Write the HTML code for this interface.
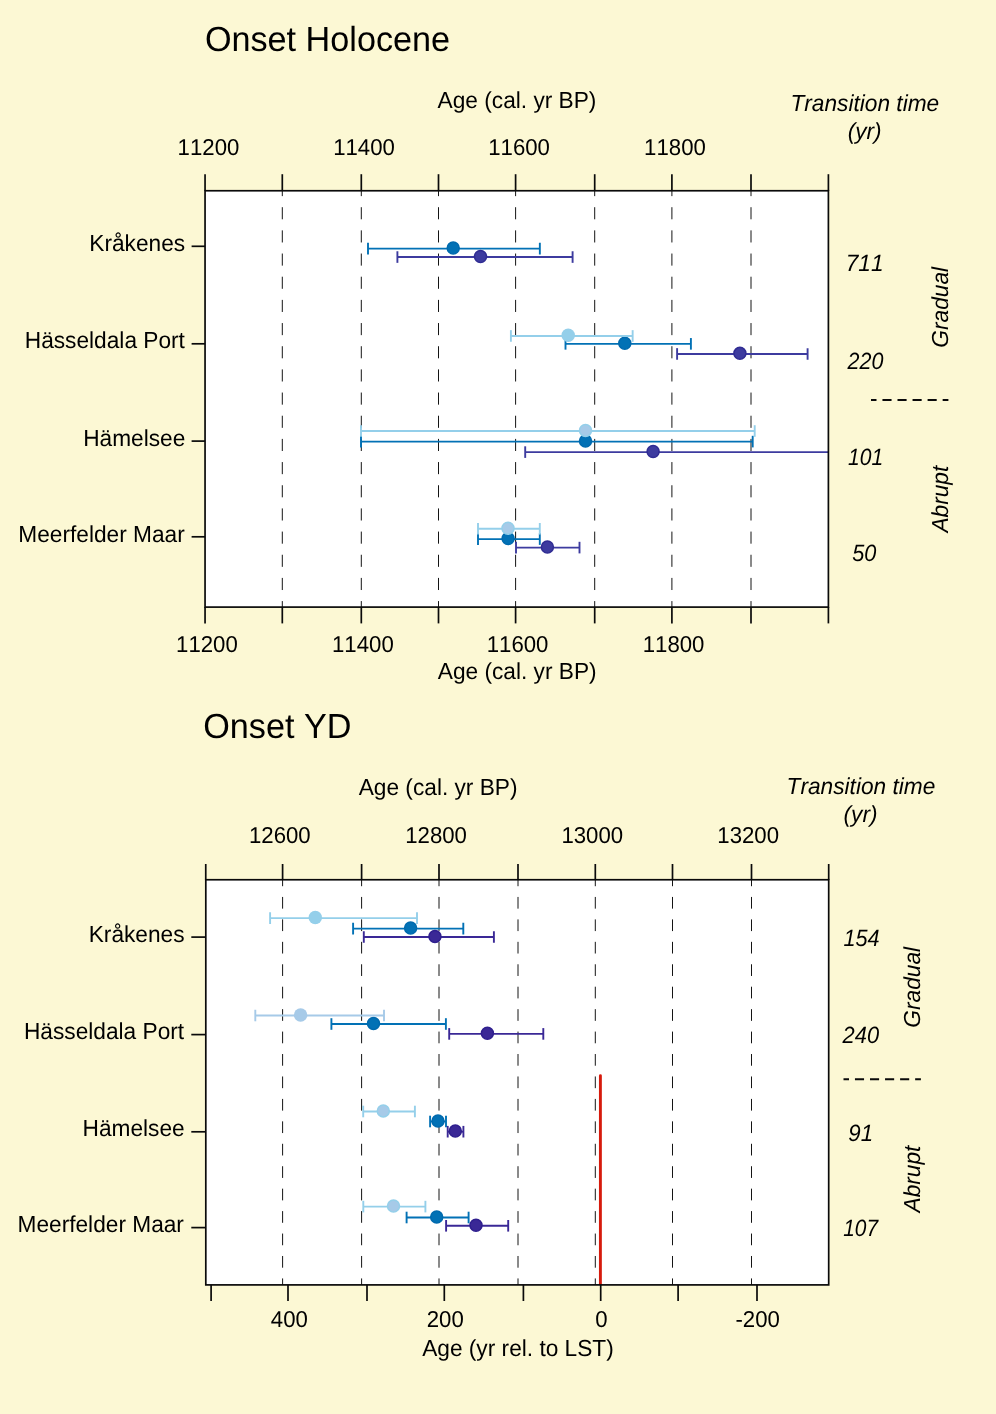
<!DOCTYPE html>
<html><head><meta charset="utf-8"><style>
html,body{margin:0;padding:0;background:#fcf8d4;overflow:hidden;}
svg{will-change:transform;display:block;font-family:"Liberation Sans", sans-serif;}
text{fill:#000;font-kerning:none;text-rendering:geometricPrecision;}
</style></head><body>
<svg width="996" height="1414" viewBox="0 0 996 1414">
<rect width="996" height="1414" fill="#fcf8d4"/>
<rect x="205.05" y="190.75" width="623.3499999999999" height="416.35" fill="#ffffff"/>
<line x1="282.30" y1="190.75" x2="282.30" y2="607.10" stroke="#141414" stroke-width="1.0" stroke-dasharray="12.1 11.07" stroke-dashoffset="6.720000000000027"/>
<line x1="361.30" y1="190.75" x2="361.30" y2="607.10" stroke="#141414" stroke-width="1.0" stroke-dasharray="12.1 11.07" stroke-dashoffset="6.720000000000027"/>
<line x1="438.50" y1="190.75" x2="438.50" y2="607.10" stroke="#141414" stroke-width="1.0" stroke-dasharray="12.1 11.07" stroke-dashoffset="6.720000000000027"/>
<line x1="515.60" y1="190.75" x2="515.60" y2="607.10" stroke="#141414" stroke-width="1.0" stroke-dasharray="12.1 11.07" stroke-dashoffset="6.720000000000027"/>
<line x1="594.70" y1="190.75" x2="594.70" y2="607.10" stroke="#141414" stroke-width="1.0" stroke-dasharray="12.1 11.07" stroke-dashoffset="6.720000000000027"/>
<line x1="671.90" y1="190.75" x2="671.90" y2="607.10" stroke="#141414" stroke-width="1.0" stroke-dasharray="12.1 11.07" stroke-dashoffset="6.720000000000027"/>
<line x1="751.00" y1="190.75" x2="751.00" y2="607.10" stroke="#141414" stroke-width="1.0" stroke-dasharray="12.1 11.07" stroke-dashoffset="6.720000000000027"/>
<clipPath id="c1"><rect x="205.05" y="190.75" width="623.3499999999999" height="416.35"/></clipPath>
<g clip-path="url(#c1)">
<line x1="368.00" y1="248.60" x2="539.85" y2="248.60" stroke="#0271b5" stroke-width="1.9" />
<line x1="368.00" y1="242.80" x2="368.00" y2="254.40" stroke="#0271b5" stroke-width="1.9" />
<line x1="539.85" y1="242.80" x2="539.85" y2="254.40" stroke="#0271b5" stroke-width="1.9" />
<circle cx="453.20" cy="248.00" r="6.00" fill="#0271b5" stroke="#006aae" stroke-width="1.5"/>
<line x1="565.50" y1="343.85" x2="690.90" y2="343.85" stroke="#0271b5" stroke-width="1.9" />
<line x1="565.50" y1="338.05" x2="565.50" y2="349.65" stroke="#0271b5" stroke-width="1.9" />
<line x1="690.90" y1="338.05" x2="690.90" y2="349.65" stroke="#0271b5" stroke-width="1.9" />
<circle cx="624.80" cy="343.25" r="6.00" fill="#0271b5" stroke="#006aae" stroke-width="1.5"/>
<line x1="361.00" y1="441.60" x2="752.70" y2="441.60" stroke="#0271b5" stroke-width="1.9" />
<line x1="361.00" y1="435.80" x2="361.00" y2="447.40" stroke="#0271b5" stroke-width="1.9" />
<line x1="752.70" y1="435.80" x2="752.70" y2="447.40" stroke="#0271b5" stroke-width="1.9" />
<circle cx="585.50" cy="441.00" r="6.00" fill="#0271b5" stroke="#006aae" stroke-width="1.5"/>
<line x1="478.00" y1="539.10" x2="539.80" y2="539.10" stroke="#0271b5" stroke-width="1.9" />
<line x1="478.00" y1="533.30" x2="478.00" y2="544.90" stroke="#0271b5" stroke-width="1.9" />
<line x1="539.80" y1="533.30" x2="539.80" y2="544.90" stroke="#0271b5" stroke-width="1.9" />
<circle cx="508.10" cy="538.50" r="6.00" fill="#0271b5" stroke="#006aae" stroke-width="1.5"/>
<line x1="397.40" y1="257.05" x2="572.60" y2="257.05" stroke="#3d3b9f" stroke-width="1.9" />
<line x1="397.40" y1="251.25" x2="397.40" y2="262.85" stroke="#3d3b9f" stroke-width="1.9" />
<line x1="572.60" y1="251.25" x2="572.60" y2="262.85" stroke="#3d3b9f" stroke-width="1.9" />
<circle cx="480.50" cy="256.45" r="6.00" fill="#3d3b9f" stroke="#302c93" stroke-width="1.5"/>
<line x1="677.10" y1="353.95" x2="807.60" y2="353.95" stroke="#3d3b9f" stroke-width="1.9" />
<line x1="677.10" y1="348.15" x2="677.10" y2="359.75" stroke="#3d3b9f" stroke-width="1.9" />
<line x1="807.60" y1="348.15" x2="807.60" y2="359.75" stroke="#3d3b9f" stroke-width="1.9" />
<circle cx="739.90" cy="353.35" r="6.00" fill="#3d3b9f" stroke="#302c93" stroke-width="1.5"/>
<line x1="525.20" y1="452.10" x2="900.00" y2="452.10" stroke="#3d3b9f" stroke-width="1.9" />
<line x1="525.20" y1="446.30" x2="525.20" y2="457.90" stroke="#3d3b9f" stroke-width="1.9" />
<line x1="900.00" y1="446.30" x2="900.00" y2="457.90" stroke="#3d3b9f" stroke-width="1.9" />
<circle cx="653.10" cy="451.50" r="6.00" fill="#3d3b9f" stroke="#302c93" stroke-width="1.5"/>
<line x1="516.00" y1="547.60" x2="579.50" y2="547.60" stroke="#3d3b9f" stroke-width="1.9" />
<line x1="516.00" y1="541.80" x2="516.00" y2="553.40" stroke="#3d3b9f" stroke-width="1.9" />
<line x1="579.50" y1="541.80" x2="579.50" y2="553.40" stroke="#3d3b9f" stroke-width="1.9" />
<circle cx="547.40" cy="547.00" r="6.00" fill="#3d3b9f" stroke="#302c93" stroke-width="1.5"/>
<line x1="510.90" y1="335.95" x2="632.65" y2="335.95" stroke="#94cfea" stroke-width="1.9" />
<line x1="510.90" y1="330.15" x2="510.90" y2="341.75" stroke="#94cfea" stroke-width="1.9" />
<line x1="632.65" y1="330.15" x2="632.65" y2="341.75" stroke="#94cfea" stroke-width="1.9" />
<circle cx="568.20" cy="335.35" r="6.75" fill="#94cfea"/>
<line x1="361.00" y1="431.00" x2="754.70" y2="431.00" stroke="#94cfea" stroke-width="1.9" />
<line x1="361.00" y1="425.20" x2="361.00" y2="436.80" stroke="#94cfea" stroke-width="1.9" />
<line x1="754.70" y1="425.20" x2="754.70" y2="436.80" stroke="#94cfea" stroke-width="1.9" />
<circle cx="585.50" cy="430.40" r="6.00" fill="#a6cae8" stroke="#94cfea" stroke-width="1.5"/>
<line x1="478.00" y1="528.80" x2="539.80" y2="528.80" stroke="#94cfea" stroke-width="1.9" />
<line x1="478.00" y1="523.00" x2="478.00" y2="534.60" stroke="#94cfea" stroke-width="1.9" />
<line x1="539.80" y1="523.00" x2="539.80" y2="534.60" stroke="#94cfea" stroke-width="1.9" />
<circle cx="508.00" cy="528.20" r="6.00" fill="#a6cae8" stroke="#94cfea" stroke-width="1.5"/>
</g>
<rect x="205.05" y="190.75" width="623.3499999999999" height="416.35" fill="none" stroke="#0a0a0a" stroke-width="1.7"/>
<line x1="205.05" y1="174.20" x2="205.05" y2="190.75" stroke="#0a0a0a" stroke-width="1.7" />
<line x1="282.30" y1="174.20" x2="282.30" y2="190.75" stroke="#0a0a0a" stroke-width="1.7" />
<line x1="361.30" y1="174.20" x2="361.30" y2="190.75" stroke="#0a0a0a" stroke-width="1.7" />
<line x1="438.50" y1="174.20" x2="438.50" y2="190.75" stroke="#0a0a0a" stroke-width="1.7" />
<line x1="515.60" y1="174.20" x2="515.60" y2="190.75" stroke="#0a0a0a" stroke-width="1.7" />
<line x1="594.70" y1="174.20" x2="594.70" y2="190.75" stroke="#0a0a0a" stroke-width="1.7" />
<line x1="671.90" y1="174.20" x2="671.90" y2="190.75" stroke="#0a0a0a" stroke-width="1.7" />
<line x1="751.00" y1="174.20" x2="751.00" y2="190.75" stroke="#0a0a0a" stroke-width="1.7" />
<line x1="828.40" y1="174.20" x2="828.40" y2="190.75" stroke="#0a0a0a" stroke-width="1.7" />
<line x1="205.05" y1="607.10" x2="205.05" y2="623.40" stroke="#0a0a0a" stroke-width="1.7" />
<line x1="282.30" y1="607.10" x2="282.30" y2="623.40" stroke="#0a0a0a" stroke-width="1.7" />
<line x1="361.30" y1="607.10" x2="361.30" y2="623.40" stroke="#0a0a0a" stroke-width="1.7" />
<line x1="438.50" y1="607.10" x2="438.50" y2="623.40" stroke="#0a0a0a" stroke-width="1.7" />
<line x1="515.60" y1="607.10" x2="515.60" y2="623.40" stroke="#0a0a0a" stroke-width="1.7" />
<line x1="594.70" y1="607.10" x2="594.70" y2="623.40" stroke="#0a0a0a" stroke-width="1.7" />
<line x1="671.90" y1="607.10" x2="671.90" y2="623.40" stroke="#0a0a0a" stroke-width="1.7" />
<line x1="751.00" y1="607.10" x2="751.00" y2="623.40" stroke="#0a0a0a" stroke-width="1.7" />
<line x1="828.40" y1="607.10" x2="828.40" y2="623.40" stroke="#0a0a0a" stroke-width="1.7" />
<line x1="191.60" y1="246.30" x2="205.05" y2="246.30" stroke="#0a0a0a" stroke-width="1.7" />
<line x1="191.60" y1="343.80" x2="205.05" y2="343.80" stroke="#0a0a0a" stroke-width="1.7" />
<line x1="191.60" y1="441.10" x2="205.05" y2="441.10" stroke="#0a0a0a" stroke-width="1.7" />
<line x1="191.60" y1="536.80" x2="205.05" y2="536.80" stroke="#0a0a0a" stroke-width="1.7" />
<line x1="871.00" y1="400.00" x2="948.40" y2="400.00" stroke="#0a0a0a" stroke-width="1.9" stroke-dasharray="9.1 5.95" stroke-dashoffset="3.6"/>
<rect x="205.8" y="879.75" width="622.9000000000001" height="405.1500000000001" fill="#ffffff"/>
<line x1="282.60" y1="879.75" x2="282.60" y2="1284.90" stroke="#141414" stroke-width="1.0" stroke-dasharray="11.7 10.74" stroke-dashoffset="5.240000000000009"/>
<line x1="361.60" y1="879.75" x2="361.60" y2="1284.90" stroke="#141414" stroke-width="1.0" stroke-dasharray="11.7 10.74" stroke-dashoffset="5.240000000000009"/>
<line x1="439.00" y1="879.75" x2="439.00" y2="1284.90" stroke="#141414" stroke-width="1.0" stroke-dasharray="11.7 10.74" stroke-dashoffset="5.240000000000009"/>
<line x1="518.00" y1="879.75" x2="518.00" y2="1284.90" stroke="#141414" stroke-width="1.0" stroke-dasharray="11.7 10.74" stroke-dashoffset="5.240000000000009"/>
<line x1="595.30" y1="879.75" x2="595.30" y2="1284.90" stroke="#141414" stroke-width="1.0" stroke-dasharray="11.7 10.74" stroke-dashoffset="5.240000000000009"/>
<line x1="672.50" y1="879.75" x2="672.50" y2="1284.90" stroke="#141414" stroke-width="1.0" stroke-dasharray="11.7 10.74" stroke-dashoffset="5.240000000000009"/>
<line x1="751.50" y1="879.75" x2="751.50" y2="1284.90" stroke="#141414" stroke-width="1.0" stroke-dasharray="11.7 10.74" stroke-dashoffset="5.240000000000009"/>
<clipPath id="c2"><rect x="205.8" y="879.75" width="622.9000000000001" height="405.1500000000001"/></clipPath>
<g clip-path="url(#c2)">
<line x1="353.10" y1="928.60" x2="463.30" y2="928.60" stroke="#0271b5" stroke-width="1.9" />
<line x1="353.10" y1="922.80" x2="353.10" y2="934.40" stroke="#0271b5" stroke-width="1.9" />
<line x1="463.30" y1="922.80" x2="463.30" y2="934.40" stroke="#0271b5" stroke-width="1.9" />
<circle cx="410.60" cy="928.00" r="6.00" fill="#0271b5" stroke="#006aae" stroke-width="1.5"/>
<line x1="331.40" y1="1024.00" x2="445.90" y2="1024.00" stroke="#0271b5" stroke-width="1.9" />
<line x1="331.40" y1="1018.20" x2="331.40" y2="1029.80" stroke="#0271b5" stroke-width="1.9" />
<line x1="445.90" y1="1018.20" x2="445.90" y2="1029.80" stroke="#0271b5" stroke-width="1.9" />
<circle cx="373.50" cy="1023.40" r="6.00" fill="#0271b5" stroke="#006aae" stroke-width="1.5"/>
<line x1="430.10" y1="1121.50" x2="446.00" y2="1121.50" stroke="#0271b5" stroke-width="1.9" />
<line x1="430.10" y1="1115.70" x2="430.10" y2="1127.30" stroke="#0271b5" stroke-width="1.9" />
<line x1="446.00" y1="1115.70" x2="446.00" y2="1127.30" stroke="#0271b5" stroke-width="1.9" />
<circle cx="438.00" cy="1120.90" r="6.00" fill="#0271b5" stroke="#006aae" stroke-width="1.5"/>
<line x1="406.60" y1="1217.50" x2="468.60" y2="1217.50" stroke="#0271b5" stroke-width="1.9" />
<line x1="406.60" y1="1211.70" x2="406.60" y2="1223.30" stroke="#0271b5" stroke-width="1.9" />
<line x1="468.60" y1="1211.70" x2="468.60" y2="1223.30" stroke="#0271b5" stroke-width="1.9" />
<circle cx="436.70" cy="1216.90" r="6.00" fill="#0271b5" stroke="#006aae" stroke-width="1.5"/>
<line x1="363.80" y1="937.00" x2="493.90" y2="937.00" stroke="#3a2896" stroke-width="1.9" />
<line x1="363.80" y1="931.20" x2="363.80" y2="942.80" stroke="#3a2896" stroke-width="1.9" />
<line x1="493.90" y1="931.20" x2="493.90" y2="942.80" stroke="#3a2896" stroke-width="1.9" />
<circle cx="434.95" cy="936.40" r="6.00" fill="#3a2896" stroke="#2f1f8e" stroke-width="1.5"/>
<line x1="449.20" y1="1033.90" x2="543.30" y2="1033.90" stroke="#3a2896" stroke-width="1.9" />
<line x1="449.20" y1="1028.10" x2="449.20" y2="1039.70" stroke="#3a2896" stroke-width="1.9" />
<line x1="543.30" y1="1028.10" x2="543.30" y2="1039.70" stroke="#3a2896" stroke-width="1.9" />
<circle cx="487.40" cy="1033.30" r="6.00" fill="#3a2896" stroke="#2f1f8e" stroke-width="1.5"/>
<line x1="447.70" y1="1131.70" x2="463.40" y2="1131.70" stroke="#3a2896" stroke-width="1.9" />
<line x1="447.70" y1="1125.90" x2="447.70" y2="1137.50" stroke="#3a2896" stroke-width="1.9" />
<line x1="463.40" y1="1125.90" x2="463.40" y2="1137.50" stroke="#3a2896" stroke-width="1.9" />
<circle cx="455.30" cy="1131.10" r="6.00" fill="#3a2896" stroke="#2f1f8e" stroke-width="1.5"/>
<line x1="446.10" y1="1225.80" x2="508.20" y2="1225.80" stroke="#3a2896" stroke-width="1.9" />
<line x1="446.10" y1="1220.00" x2="446.10" y2="1231.60" stroke="#3a2896" stroke-width="1.9" />
<line x1="508.20" y1="1220.00" x2="508.20" y2="1231.60" stroke="#3a2896" stroke-width="1.9" />
<circle cx="476.00" cy="1225.20" r="6.00" fill="#3a2896" stroke="#2f1f8e" stroke-width="1.5"/>
<line x1="270.10" y1="918.10" x2="417.00" y2="918.10" stroke="#94cfea" stroke-width="1.9" />
<line x1="270.10" y1="912.30" x2="270.10" y2="923.90" stroke="#94cfea" stroke-width="1.9" />
<line x1="417.00" y1="912.30" x2="417.00" y2="923.90" stroke="#94cfea" stroke-width="1.9" />
<circle cx="315.30" cy="917.50" r="6.75" fill="#94cfea"/>
<line x1="255.30" y1="1015.50" x2="384.00" y2="1015.50" stroke="#a6cae8" stroke-width="1.9" />
<line x1="255.30" y1="1009.70" x2="255.30" y2="1021.30" stroke="#a6cae8" stroke-width="1.9" />
<line x1="384.00" y1="1009.70" x2="384.00" y2="1021.30" stroke="#a6cae8" stroke-width="1.9" />
<circle cx="300.60" cy="1014.90" r="6.75" fill="#a6cae8"/>
<line x1="363.20" y1="1111.50" x2="414.90" y2="1111.50" stroke="#94cfea" stroke-width="1.9" />
<line x1="363.20" y1="1105.70" x2="363.20" y2="1117.30" stroke="#94cfea" stroke-width="1.9" />
<line x1="414.90" y1="1105.70" x2="414.90" y2="1117.30" stroke="#94cfea" stroke-width="1.9" />
<circle cx="383.30" cy="1110.90" r="6.00" fill="#a6cae8" stroke="#94cfea" stroke-width="1.5"/>
<line x1="363.30" y1="1206.60" x2="425.40" y2="1206.60" stroke="#94cfea" stroke-width="1.9" />
<line x1="363.30" y1="1200.80" x2="363.30" y2="1212.40" stroke="#94cfea" stroke-width="1.9" />
<line x1="425.40" y1="1200.80" x2="425.40" y2="1212.40" stroke="#94cfea" stroke-width="1.9" />
<circle cx="393.50" cy="1206.00" r="6.00" fill="#a6cae8" stroke="#94cfea" stroke-width="1.5"/>
<line x1="600.40" y1="1075.80" x2="600.40" y2="1290.00" stroke="#d61a0c" stroke-width="2.9" stroke-linecap="round"/>
</g>
<rect x="205.8" y="879.75" width="622.9000000000001" height="405.1500000000001" fill="none" stroke="#0a0a0a" stroke-width="1.7"/>
<line x1="205.75" y1="864.00" x2="205.75" y2="879.75" stroke="#0a0a0a" stroke-width="1.7" />
<line x1="282.60" y1="864.00" x2="282.60" y2="879.75" stroke="#0a0a0a" stroke-width="1.7" />
<line x1="361.60" y1="864.00" x2="361.60" y2="879.75" stroke="#0a0a0a" stroke-width="1.7" />
<line x1="439.00" y1="864.00" x2="439.00" y2="879.75" stroke="#0a0a0a" stroke-width="1.7" />
<line x1="518.00" y1="864.00" x2="518.00" y2="879.75" stroke="#0a0a0a" stroke-width="1.7" />
<line x1="595.30" y1="864.00" x2="595.30" y2="879.75" stroke="#0a0a0a" stroke-width="1.7" />
<line x1="672.50" y1="864.00" x2="672.50" y2="879.75" stroke="#0a0a0a" stroke-width="1.7" />
<line x1="751.50" y1="864.00" x2="751.50" y2="879.75" stroke="#0a0a0a" stroke-width="1.7" />
<line x1="828.70" y1="864.00" x2="828.70" y2="879.75" stroke="#0a0a0a" stroke-width="1.7" />
<line x1="211.10" y1="1284.90" x2="211.10" y2="1301.00" stroke="#0a0a0a" stroke-width="1.7" />
<line x1="288.00" y1="1284.90" x2="288.00" y2="1301.00" stroke="#0a0a0a" stroke-width="1.7" />
<line x1="367.00" y1="1284.90" x2="367.00" y2="1301.00" stroke="#0a0a0a" stroke-width="1.7" />
<line x1="444.30" y1="1284.90" x2="444.30" y2="1301.00" stroke="#0a0a0a" stroke-width="1.7" />
<line x1="523.40" y1="1284.90" x2="523.40" y2="1301.00" stroke="#0a0a0a" stroke-width="1.7" />
<line x1="600.70" y1="1284.90" x2="600.70" y2="1301.00" stroke="#0a0a0a" stroke-width="1.7" />
<line x1="678.10" y1="1284.90" x2="678.10" y2="1301.00" stroke="#0a0a0a" stroke-width="1.7" />
<line x1="757.00" y1="1284.90" x2="757.00" y2="1301.00" stroke="#0a0a0a" stroke-width="1.7" />
<line x1="191.30" y1="937.10" x2="205.80" y2="937.10" stroke="#0a0a0a" stroke-width="1.7" />
<line x1="191.30" y1="1034.60" x2="205.80" y2="1034.60" stroke="#0a0a0a" stroke-width="1.7" />
<line x1="191.30" y1="1131.80" x2="205.80" y2="1131.80" stroke="#0a0a0a" stroke-width="1.7" />
<line x1="191.30" y1="1227.60" x2="205.80" y2="1227.60" stroke="#0a0a0a" stroke-width="1.7" />
<line x1="843.50" y1="1079.20" x2="920.90" y2="1079.20" stroke="#0a0a0a" stroke-width="1.9" stroke-dasharray="9.1 5.95" stroke-dashoffset="3.6"/>
<text transform="translate(204.88,50.54) scale(1.0,1.02)" text-anchor="start" font-size="34.2">Onset Holocene</text>
<text transform="translate(516.99,107.60) scale(1.0,1.02)" text-anchor="middle" font-size="22.7">Age (cal. yr BP)</text>
<text transform="translate(864.82,111.20) scale(1.0,1.02)" text-anchor="middle" font-size="22.7" font-style="italic">Transition time</text>
<text transform="translate(864.65,139.32) scale(1.0,1.02)" text-anchor="middle" font-size="22.7" font-style="italic">(yr)</text>
<text transform="translate(208.45,154.79) scale(1.0,1.035)" text-anchor="middle" font-size="22.2">11200</text>
<text transform="translate(364.03,154.79) scale(1.0,1.035)" text-anchor="middle" font-size="22.2">11400</text>
<text transform="translate(519.11,154.79) scale(1.0,1.035)" text-anchor="middle" font-size="22.2">11600</text>
<text transform="translate(674.96,154.78) scale(1.0,1.035)" text-anchor="middle" font-size="22.2">11800</text>
<text transform="translate(206.90,651.89) scale(1.0,1.035)" text-anchor="middle" font-size="22.2">11200</text>
<text transform="translate(362.87,651.89) scale(1.0,1.035)" text-anchor="middle" font-size="22.2">11400</text>
<text transform="translate(517.56,651.89) scale(1.0,1.035)" text-anchor="middle" font-size="22.2">11600</text>
<text transform="translate(673.56,651.89) scale(1.0,1.035)" text-anchor="middle" font-size="22.2">11800</text>
<text transform="translate(517.17,678.90) scale(1.0,1.02)" text-anchor="middle" font-size="22.7">Age (cal. yr BP)</text>
<text transform="translate(185.15,251.10) scale(1.0,1.02)" text-anchor="end" font-size="22.7">Kråkenes</text>
<text transform="translate(184.92,347.80) scale(1.0,1.02)" text-anchor="end" font-size="22.7">Hässeldala Port</text>
<text transform="translate(185.35,445.70) scale(1.0,1.02)" text-anchor="end" font-size="22.7">Hämelsee</text>
<text transform="translate(184.73,541.90) scale(1.0,1.02)" text-anchor="end" font-size="22.7">Meerfelder Maar</text>
<text transform="translate(864.62,271.15) scale(1.0,1.035)" text-anchor="middle" font-size="22.7" font-style="italic">711</text>
<text transform="translate(865.42,368.67) scale(0.946,1.035)" text-anchor="middle" font-size="22.7" font-style="italic">220</text>
<text transform="translate(865.58,465.37) scale(0.928,1.035)" text-anchor="middle" font-size="22.7" font-style="italic">101</text>
<text transform="translate(864.38,561.05) scale(0.956,1.035)" text-anchor="middle" font-size="22.7" font-style="italic">50</text>
<text transform="translate(948.07,307.31) rotate(-90) scale(1.0,1.02)" text-anchor="middle" font-size="22.7" font-style="italic">Gradual</text>
<text transform="translate(947.69,499.17) rotate(-90) scale(1.0,1.02)" text-anchor="middle" font-size="22.7" font-style="italic">Abrupt</text>
<text transform="translate(203.18,737.50) scale(1.0,1.02)" text-anchor="start" font-size="34.2">Onset YD</text>
<text transform="translate(438.11,795.20) scale(1.0,1.02)" text-anchor="middle" font-size="22.7">Age (cal. yr BP)</text>
<text transform="translate(860.97,793.90) scale(1.0,1.02)" text-anchor="middle" font-size="22.7" font-style="italic">Transition time</text>
<text transform="translate(860.54,821.92) scale(1.0,1.02)" text-anchor="middle" font-size="22.7" font-style="italic">(yr)</text>
<text transform="translate(279.85,842.59) scale(1.0,1.035)" text-anchor="middle" font-size="22.2">12600</text>
<text transform="translate(436.04,842.59) scale(1.0,1.035)" text-anchor="middle" font-size="22.2">12800</text>
<text transform="translate(592.28,842.59) scale(1.0,1.035)" text-anchor="middle" font-size="22.2">13000</text>
<text transform="translate(748.16,842.59) scale(1.0,1.035)" text-anchor="middle" font-size="22.2">13200</text>
<text transform="translate(289.37,1327.29) scale(1.0,1.035)" text-anchor="middle" font-size="22.2">400</text>
<text transform="translate(445.27,1327.29) scale(1.0,1.035)" text-anchor="middle" font-size="22.2">200</text>
<text transform="translate(601.44,1327.29) scale(1.0,1.035)" text-anchor="middle" font-size="22.2">0</text>
<text transform="translate(757.68,1327.29) scale(1.0,1.035)" text-anchor="middle" font-size="22.2">-200</text>
<text transform="translate(517.96,1355.60) scale(1.0,1.02)" text-anchor="middle" font-size="22.7">Age (yr rel. to LST)</text>
<text transform="translate(184.56,941.80) scale(1.0,1.02)" text-anchor="end" font-size="22.7">Kråkenes</text>
<text transform="translate(184.14,1039.40) scale(1.0,1.02)" text-anchor="end" font-size="22.7">Hässeldala Port</text>
<text transform="translate(184.64,1136.30) scale(1.0,1.02)" text-anchor="end" font-size="22.7">Hämelsee</text>
<text transform="translate(183.93,1232.10) scale(1.0,1.02)" text-anchor="end" font-size="22.7">Meerfelder Maar</text>
<text transform="translate(861.49,945.65) scale(0.954,1.035)" text-anchor="middle" font-size="22.7" font-style="italic">154</text>
<text transform="translate(860.79,1042.97) scale(0.964,1.035)" text-anchor="middle" font-size="22.7" font-style="italic">240</text>
<text transform="translate(860.67,1141.17) scale(0.982,1.035)" text-anchor="middle" font-size="22.7" font-style="italic">91</text>
<text transform="translate(860.62,1236.18) scale(0.92,1.035)" text-anchor="middle" font-size="22.7" font-style="italic">107</text>
<text transform="translate(920.47,987.28) rotate(-90) scale(1.0,1.02)" text-anchor="middle" font-size="22.7" font-style="italic">Gradual</text>
<text transform="translate(919.69,1179.07) rotate(-90) scale(1.0,1.02)" text-anchor="middle" font-size="22.7" font-style="italic">Abrupt</text>
</svg></body></html>
